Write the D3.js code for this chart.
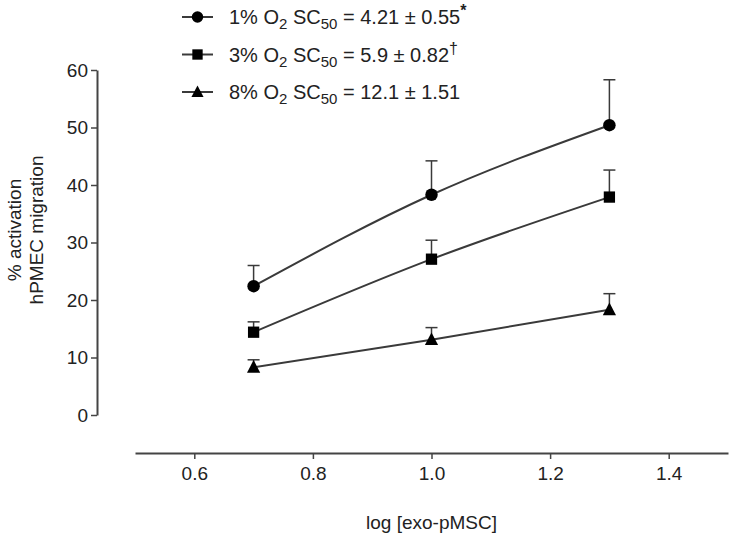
<!DOCTYPE html>
<html><head><meta charset="utf-8">
<script src="https://cdn.jsdelivr.net/npm/d3@7"></script>
<style>
html,body{margin:0;padding:0;background:#fff;}
svg text{font-family:"Liberation Sans",Arial,sans-serif;fill:#222;}
</style></head>
<body><svg id="c" width="735" height="542"></svg>
<script>
const xValues = [0.7, 1.0, 1.3];
const seriesNames = ["1% O2", "3% O2", "8% O2"];
const seriesMarkers = ["circle", "square", "triangle"];
const mean1 = [22.4, 38.3, 50.4];
const err1 = [3.6, 5.9, 7.9];
const mean3 = [14.4, 27.1, 37.9];
const err3 = [1.8, 3.3, 4.7];
const mean8 = [8.3, 13.1, 18.3];
const err8 = [1.3, 2.1, 2.8];
const sc50Values = ["4.21 ± 0.55", "5.9 ± 0.82", "12.1 ± 1.51"];
const sc50Marks = ["*", "†", ""];
const xTicks = [0.6, 0.8, 1.0, 1.2, 1.4];
const yTicks = [0, 10, 20, 30, 40, 50, 60];

const series = [
  {name: seriesNames[0], marker: seriesMarkers[0], mean: mean1, err: err1, sc: sc50Values[0], mark: sc50Marks[0]},
  {name: seriesNames[1], marker: seriesMarkers[1], mean: mean3, err: err3, sc: sc50Values[1], mark: sc50Marks[1]},
  {name: seriesNames[2], marker: seriesMarkers[2], mean: mean8, err: err8, sc: sc50Values[2], mark: sc50Marks[2]}
];

const svg = d3.select("#c");
const x = d3.scaleLinear().domain([0.5, 1.5]).range([135, 728]);
const y = d3.scaleLinear().domain([0, 60]).range([415, 70]);
const axisColor = "#444";
const lineColor = "#3a3a3a";

// Y axis
const yAxis = svg.append("g").attr("transform", "translate(97,0)")
  .call(d3.axisLeft(y).tickValues(yTicks).tickSize(6).tickSizeOuter(0).tickPadding(3));
// X axis
const xAxis = svg.append("g").attr("transform", "translate(0,453)")
  .call(d3.axisBottom(x).tickValues(xTicks).tickFormat(d3.format(".1f")).tickSize(6).tickSizeOuter(0).tickPadding(8));
[yAxis, xAxis].forEach(g => {
  g.selectAll("path.domain").attr("stroke", axisColor).attr("stroke-width", 2);
  g.selectAll(".tick line").attr("stroke", axisColor).attr("stroke-width", 1.5);
  g.selectAll(".tick text").attr("font-size", 19).attr("fill", "#222")
    .attr("font-family", '"Liberation Sans",Arial,sans-serif');
});

// Axis titles
svg.append("text").attr("x", x(1.0)).attr("y", 529).attr("text-anchor", "middle")
  .attr("font-size", 19).text("log [exo-pMSC]");
const yl = svg.append("text").attr("transform", "translate(21,230) rotate(-90)")
  .attr("text-anchor", "middle").attr("font-size", 19);
yl.append("tspan").attr("x", 0).attr("dy", 0).text("% activation");
yl.append("tspan").attr("x", 0).attr("dy", 22).text("hPMEC migration");

// Marker drawing
function drawMarker(g, type, cx, cy, s) {
  if (type === "circle") {
    g.append("circle").attr("cx", cx).attr("cy", cy).attr("r", s * 0.52).attr("fill", "#000");
  } else if (type === "square") {
    g.append("rect").attr("x", cx - s * 0.47).attr("y", cy - s * 0.47)
      .attr("width", s * 0.94).attr("height", s * 0.94).attr("fill", "#000");
  } else {
    const h = s * 1.0;
    g.append("path").attr("d", d3.line()([[cx, cy - h * 0.6], [cx + s * 0.55, cy + h * 0.45], [cx - s * 0.55, cy + h * 0.45]]) + "Z")
      .attr("fill", "#000");
  }
}

const line = d3.line().x(d => x(d[0])).y(d => y(d[1])).curve(d3.curveNatural);
const plot = svg.append("g");
series.forEach(s => {
  const pts = xValues.map((v, i) => [v, s.mean[i]]);
  plot.append("path").attr("d", line(pts)).attr("fill", "none")
    .attr("stroke", lineColor).attr("stroke-width", 2);
  xValues.forEach((v, i) => {
    const cx = x(v), top = y(s.mean[i] + s.err[i]);
    plot.append("line").attr("x1", cx).attr("x2", cx).attr("y1", y(s.mean[i])).attr("y2", top)
      .attr("stroke", lineColor).attr("stroke-width", 1.5);
    plot.append("line").attr("x1", cx - 6).attr("x2", cx + 6).attr("y1", top).attr("y2", top)
      .attr("stroke", lineColor).attr("stroke-width", 1.5);
    drawMarker(plot, s.marker, cx, y(s.mean[i]), 12);
  });
});

// Legend
const leg = svg.append("g");
series.forEach((s, i) => {
  const cy = 17 + i * 37.5;
  leg.append("line").attr("x1", 182).attr("x2", 213).attr("y1", cy).attr("y2", cy)
    .attr("stroke", lineColor).attr("stroke-width", 2);
  drawMarker(leg, s.marker, 197.5, cy, 11);
  const t = leg.append("text").attr("x", 229).attr("y", cy + 7).attr("font-size", 20);
  const parts = s.name.split(" ");
  t.append("tspan").text(parts[0] + " O");
  t.append("tspan").attr("font-size", 15).attr("dy", 5).text("2");
  t.append("tspan").attr("dy", -5).text(" SC");
  t.append("tspan").attr("font-size", 15).attr("dy", 5).text("50");
  t.append("tspan").attr("dy", -5).text(" = " + s.sc);
  if (s.mark) t.append("tspan").attr("font-size", 16).attr("font-weight", s.mark === "*" ? "bold" : "normal")
    .attr("dy", -8).text(s.mark);
});
</script></body></html>
